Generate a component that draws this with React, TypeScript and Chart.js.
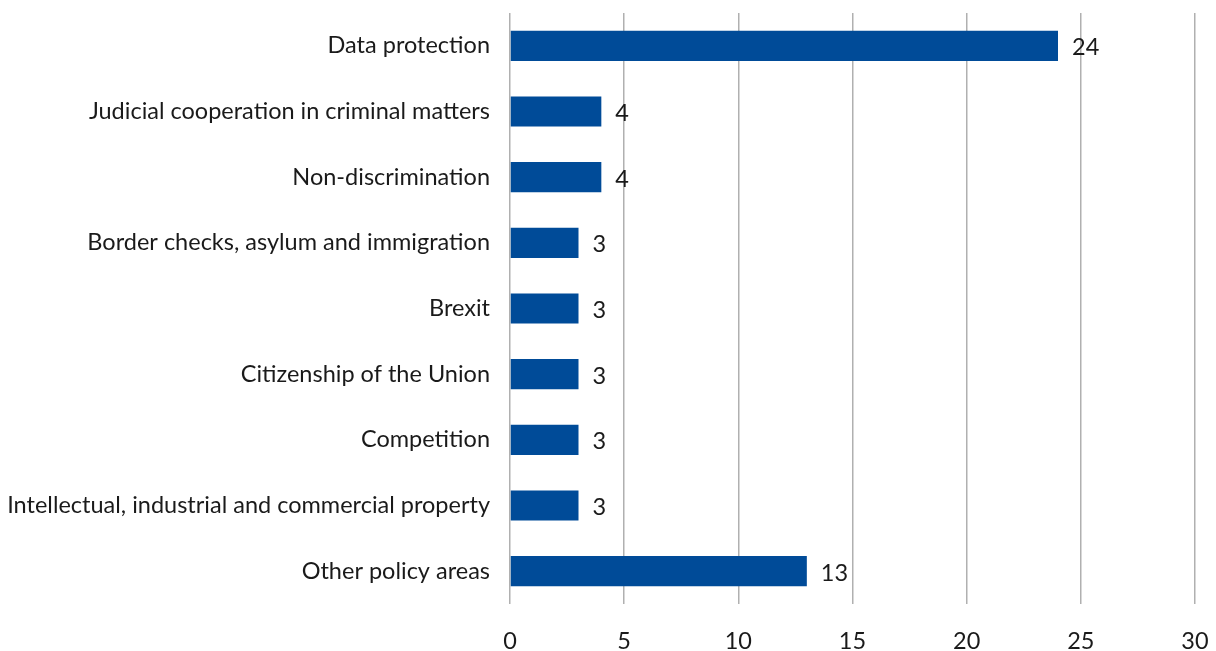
import React, { useEffect, useRef } from "react";
import { Chart, registerables } from "chart.js";

Chart.register(...registerables);

const categories = [
  "Data protection",
  "Judicial cooperation in criminal matters",
  "Non-discrimination",
  "Border checks, asylum and immigration",
  "Brexit",
  "Citizenship of the Union",
  "Competition",
  "Intellectual, industrial and commercial property",
  "Other policy areas",
];
const values = [24, 4, 4, 3, 3, 3, 3, 3, 13];
const xTicks = [0, 5, 10, 15, 20, 25, 30];

const FONT = "Lato";
const FONT_SIZE = 23.5;
const BAR_COLOR = "#004b98";

const valueLabels = {
  id: "valueLabels",
  afterDatasetsDraw(chart: any) {
    const ctx = chart.ctx;
    const meta = chart.getDatasetMeta(0);
    ctx.save();
    ctx.font = `${FONT_SIZE}px ${FONT}`;
    ctx.fillStyle = "#1a1a1a";
    ctx.textAlign = "left";
    ctx.textBaseline = "middle";
    meta.data.forEach((bar: any, i: number) => {
      ctx.fillText(String(values[i]), bar.x + 14, bar.y + 2);
    });
    ctx.restore();
  },
};

export default function App() {
  const ref = useRef<HTMLCanvasElement>(null);
  useEffect(() => {
    if (!ref.current) return;
    const chart = new Chart(ref.current, {
      type: "bar",
      data: {
        labels: categories,
        datasets: [
          {
            data: values,
            backgroundColor: BAR_COLOR,
            barPercentage: 0.46,
            categoryPercentage: 1,
          },
        ],
      },
      options: {
        indexAxis: "y",
        animation: false,
        responsive: false,
        layout: { padding: { top: 13, right: 21, left: 0, bottom: 0 } },
        plugins: { legend: { display: false }, tooltip: { enabled: false } },
        scales: {
          x: {
            min: 0,
            max: 30,
            afterBuildTicks: (s: any) => {
              s.ticks = xTicks.map((v) => ({ value: v }));
            },
            grid: { color: "#b0b0b0", lineWidth: 1.5, drawTicks: false },
            border: { display: false },
            ticks: {
              color: "#1a1a1a",
              font: { family: FONT, size: FONT_SIZE },
              padding: 23,
            },
            afterFit: (s: any) => {
              s.height = 47;
              s.paddingLeft = 0;
              s.paddingRight = 0;
            },
          },
          y: {
            grid: { display: false, drawTicks: false },
            border: { display: false },
            ticks: {
              color: "#1a1a1a",
              font: { family: FONT, size: FONT_SIZE },
              padding: 20,
              autoSkip: false,
            },
            afterFit: (s: any) => {
              s.width = 510;
              s.paddingTop = 0;
              s.paddingBottom = 0;
            },
          },
        },
      },
      plugins: [valueLabels],
    });
    return () => chart.destroy();
  }, []);
  return (
    <div style={{ position: "fixed", left: 0, top: 0, width: 1216, height: 651, background: "#fff" }}>
      <canvas ref={ref} width={1216} height={651} />
    </div>
  );
}
